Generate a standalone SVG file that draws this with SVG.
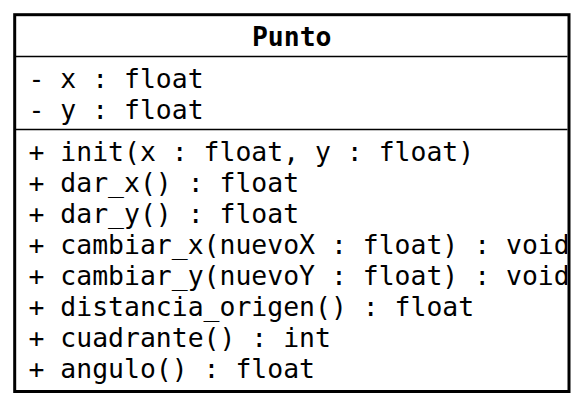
<svg xmlns="http://www.w3.org/2000/svg" width="583" height="406" viewBox="0 0 583 406">
<style>
.t{font-family:"DejaVu Sans Mono","Liberation Mono",monospace;font-size:26.45px;fill:#000}
.b{font-weight:bold}
.d{stroke:#000;stroke-width:1.3}
</style>
<defs><clipPath id="c"><rect x="16" y="16" width="551.5" height="374"/></clipPath></defs>
<rect width="583" height="406" fill="#fff"/>
<g id="Punto">
<g clip-path="url(#c)">
<text class="t b" x="291.75" y="45.5" text-anchor="middle">Punto</text>
<line class="d" x1="14.5" y1="56.5" x2="569" y2="56.5"/>
<text class="t" x="28.5" y="87.5">- x : float</text>
<text class="t" x="28.5" y="118.5">- y : float</text>
<line class="d" x1="14.5" y1="129.5" x2="569" y2="129.5"/>
<text class="t" x="28.5" y="161">+ init(x : float, y : float)</text>
<text class="t" x="28.5" y="192">+ dar_x() : float</text>
<text class="t" x="28.5" y="223">+ dar_y() : float</text>
<text class="t" x="28.5" y="254">+ cambiar_x(nuevoX : float) : void</text>
<text class="t" x="28.5" y="285">+ cambiar_y(nuevoY : float) : void</text>
<text class="t" x="28.5" y="316">+ distancia_origen() : float</text>
<text class="t" x="28.5" y="347">+ cuadrante() : int</text>
<text class="t" x="28.5" y="378">+ angulo() : float</text>
</g>
<rect x="14.7" y="14.7" width="554.3" height="376.8" fill="none" stroke="#000" stroke-width="3"/>
</g>
<g id="connectors"/>
</svg>
